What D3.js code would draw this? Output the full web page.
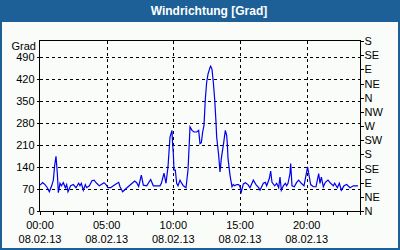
<!doctype html>
<html lang="de">
<head>
<meta charset="utf-8">
<title>Windrichtung</title>
<script src="https://d3js.org/d3.v7.min.js"></script>
<style>
    body { margin: 0; padding: 0; background: #ffffff; }
    svg { display: block; }
    text { font-family: "Liberation Sans", Arial, sans-serif; font-size: 11px; fill: #000; }
</style>
</head>
<body>
<div id="chart"></div>
<script>
    // data: hour of day and direction in degrees
    const hours = [0,0.2,0.375,0.55,0.7,0.875,1.0,1.1,1.2,1.3,1.375,1.5,1.6,1.75,1.9,2.0,2.1,2.3,2.5,2.7,2.9,3.0,3.1,3.25,3.4,3.5,3.7,3.9,4.05,4.25,4.45,4.6,4.8,4.95,5.1,5.3,5.5,5.7,5.9,6.0,6.2,6.5,6.8,7.1,7.25,7.4,7.6,7.75,8.0,8.3,8.5,8.8,9.0,9.1,9.3,9.45,9.6,9.75,9.9,9.95,10.0,10.05,10.15,10.25,10.35,10.5,10.6,10.75,10.95,11.1,11.2,11.25,11.4,11.55,11.75,11.9,12.0,12.1,12.2,12.3,12.4,12.5,12.6,12.75,12.8,12.9,13.0,13.1,13.2,13.25,13.4,13.5,13.55,13.6,13.75,13.9,14.0,14.05,14.1,14.25,14.4,14.5,14.6,14.75,14.9,15.0,15.1,15.25,15.4,15.6,15.75,16.0,16.2,16.4,16.5,16.75,16.9,17.0,17.2,17.3,17.4,17.6,17.75,17.9,18.0,18.1,18.25,18.4,18.5,18.6,18.75,18.8,18.9,19.07,19.25,19.4,19.6,19.8,20.0,20.07,20.2,20.3,20.5,20.7,20.9,21.0,21.1,21.25,21.4,21.6,21.8,22.0,22.1,22.3,22.45,22.6,22.8,23.0,23.25,23.5,23.7,23.85];
    const degrees = [82,90,84,74,61,80,98,145,174,119,58,88,80,90,74,84,61,80,84,74,88,80,88,66,84,74,80,96,98,88,80,84,90,84,74,74,80,86,91,77,61,73,84,95,90,78,114,82,80,100,80,80,80,88,120,88,140,235,256,209,183,130,130,88,80,98,90,80,74,130,219,267,256,251,251,256,214,217,251,272,356,409,435,456,460,450,409,356,282,235,177,124,145,167,209,256,240,214,167,114,77,84,80,84,84,77,61,86,90,84,74,98,84,74,66,88,91,80,103,127,91,80,88,74,108,66,80,88,80,88,119,151,80,77,91,98,88,80,124,140,108,84,77,77,119,88,108,77,91,98,88,80,88,74,88,66,80,84,74,80,80,80];

    // axis labels
    const leftTicks = [0,70,140,210,280,350,420,490];
    const rightTicks = [0,45,90,135,180,225,270,315,360,405,450,495,540];
    const rightLabels = ["N","NE","E","SE","S","SW","W","NW","N","NE","E","SE","S"];
    const majorHours = [0,5,10,15,20];
    const timeLabels = ["00:00","05:00","10:00","15:00","20:00"];
    const dateLabel = "08.02.13";

    const width = 400, height = 250;
    const blue = "#1d5f97";
    const plotLeft = 40, plotRight = 360, plotTop = 41, plotBottom = 211;

    const svg = d3.select("#chart").append("svg")
        .attr("width", width)
        .attr("height", height);

    // card frame and title bar
    svg.append("rect").attr("x", 0).attr("y", 0).attr("width", width).attr("height", height).attr("fill", blue);
    svg.append("rect").attr("x", 2).attr("y", 22).attr("width", width - 4).attr("height", height - 24).attr("fill", "#f9fcf9");
    svg.append("text")
        .attr("x", 209).attr("y", 15)
        .attr("text-anchor", "middle")
        .style("font-weight", "bold").style("font-size", "12px").style("fill", "#fff")
        .text("Windrichtung [Grad]");

    const x = d3.scaleLinear().domain([0, 24]).range([plotLeft, plotRight]);
    const y = d3.scaleLinear().domain([0, 540]).range([plotBottom, plotTop]);

    // dashed grid
    const grid = svg.append("g").attr("stroke", "#000").attr("stroke-dasharray", "3,3").attr("shape-rendering", "crispEdges");
    grid.selectAll(".h").data(leftTicks.filter(d => d > 0)).enter().append("line")
        .attr("x1", plotLeft).attr("x2", plotRight)
        .attr("y1", d => Math.round(y(d)) + 0.5).attr("y2", d => Math.round(y(d)) + 0.5);
    grid.selectAll(".v").data(majorHours.filter(d => d > 0)).enter().append("line")
        .attr("y1", plotTop).attr("y2", plotBottom)
        .attr("x1", d => Math.round(x(d)) + 0.5).attr("x2", d => Math.round(x(d)) + 0.5);

    // axes
    const yLeft = d3.axisLeft(y).tickValues(leftTicks).tickSize(3).tickPadding(2);
    const yRight = d3.axisRight(y).tickValues(rightTicks).tickSize(3).tickPadding(1)
        .tickFormat((d, i) => rightLabels[i]);
    const xAxis = d3.axisBottom(x).tickValues(d3.range(0, 25)).tickSize(3).tickFormat("");

    function styleAxis(g) {
        g.select(".domain").remove();
        g.selectAll("line").attr("stroke", "#000").attr("shape-rendering", "crispEdges");
        g.selectAll("text").style("font-size", "11px").attr("font-family", null);
    }

    svg.append("g").attr("transform", `translate(${plotLeft - 0.5},0)`).call(yLeft).call(styleAxis);
    svg.append("g").attr("transform", `translate(${plotRight + 0.5},0)`).call(yRight).call(styleAxis);
    svg.append("g").attr("transform", `translate(0,${plotBottom + 0.5})`).call(xAxis).call(styleAxis);

    // plot frame
    svg.append("rect")
        .attr("x", plotLeft - 0.5).attr("y", plotTop - 0.5)
        .attr("width", plotRight - plotLeft + 1).attr("height", plotBottom - plotTop + 1)
        .attr("fill", "none").attr("stroke", "#000").attr("shape-rendering", "crispEdges");

    // time and date labels
    const xl = svg.append("g");
    xl.selectAll(".t").data(majorHours).enter().append("text")
        .attr("x", d => x(d)).attr("y", 229).attr("text-anchor", "middle")
        .text((d, i) => timeLabels[i]);
    xl.selectAll(".d").data(majorHours).enter().append("text")
        .attr("x", d => x(d)).attr("y", 243).attr("text-anchor", "middle")
        .text(dateLabel);

    svg.append("text").attr("x", 36).attr("y", 50).attr("text-anchor", "end").text("Grad");

    // the series
    const points = hours.map((h, i) => [h, degrees[i]]);
    svg.append("path")
        .datum(points)
        .attr("fill", "none")
        .attr("stroke", "#0000ee")
        .attr("stroke-width", 1.2)
        .attr("d", d3.line().x(d => x(d[0])).y(d => y(d[1])));
</script>
</body>
</html>
